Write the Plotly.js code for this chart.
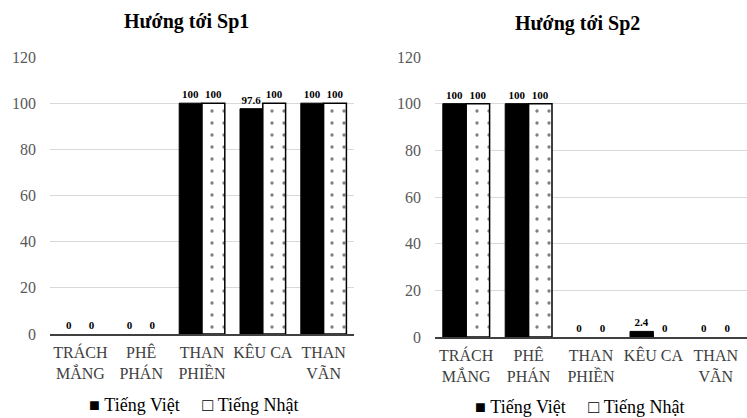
<!DOCTYPE html>
<html>
<head>
<meta charset="utf-8">
<script src="https://cdn.plot.ly/plotly-3.0.1.min.js"></script>
<style>html,body{margin:0;padding:0;background:#fff;}#chart{width:747px;height:418px;}</style>
</head>
<body>
<div id="chart"></div>
<script>
const categories = ["TRÁCH<br>MẮNG", "PHÊ<br>PHÁN", "THAN<br>PHIỀN", "KÊU CA", "THAN<br>VÃN"];
const sp1Viet = [0, 0, 100, 97.6, 100];
const sp1Nhat = [0, 0, 100, 100, 100];
const sp2Viet = [100, 100, 0, 2.4, 0];
const sp2Nhat = [100, 100, 0, 0, 0];
const seriesNames = ["Tiếng Việt", "Tiếng Nhật"];
const titles = ["Hướng tới Sp1", "Hướng tới Sp2"];
const yTicks = [0, 20, 40, 60, 80, 100, 120];

const serif = "Liberation Serif";
const labelFont = {family: serif, size: 11, color: "#000", weight: "bold"};

function lineWidths(y, w) { return y.map(v => v === 0 ? 0 : w); }

function vietTrace(y, xa, ya) {
  return {
    type: "bar", x: categories, y: y, name: seriesNames[0],
    xaxis: xa, yaxis: ya, showlegend: false,
    marker: {color: "#000", line: {color: "#000", width: lineWidths(y, 1)}},
    text: y.map(String), textposition: "outside", textfont: labelFont,
    cliponaxis: false, hoverinfo: "x+y"
  };
}
function nhatTrace(y, xa, ya) {
  return {
    type: "bar", x: categories, y: y, name: seriesNames[1],
    xaxis: xa, yaxis: ya, showlegend: false,
    marker: {color: "#fff", line: {color: "#000", width: lineWidths(y, 1.5)},
             pattern: {shape: ".", fgcolor: "#000", bgcolor: "#fff", size: 12, solidity: 0.06, fillmode: "overlay"}},
    text: y.map(String), textposition: "outside", textfont: labelFont,
    cliponaxis: false, hoverinfo: "x+y"
  };
}

const data = [
  vietTrace(sp1Viet, "x", "y"),
  nhatTrace(sp1Nhat, "x", "y"),
  vietTrace(sp2Viet, "x2", "y2"),
  nhatTrace(sp2Nhat, "x2", "y2")
];

const xCommon = {
  type: "category", showgrid: false, showline: true, linecolor: "#404040", linewidth: 2,
  ticks: "", ticklabelstandoff: 3, tickfont: {family: serif, size: 16, color: "#404040"},
  fixedrange: true, automargin: false
};
const yCommon = {
  range: [0, 120], tickvals: yTicks, showgrid: true, gridcolor: "#d9d9d9", gridwidth: 1,
  zeroline: false, showline: false, ticks: "", ticklabelstandoff: 13,
  tickfont: {family: serif, size: 16, color: "#595959"}, fixedrange: true, automargin: false
};

const NB = "\u00A0";
function legendAnn(x, y) {
  return {
    text: "■" + NB + seriesNames[0] + NB + NB + NB + NB + NB + "□" + NB + seriesNames[1],
    xref: "paper", yref: "paper", x: x, y: y, xanchor: "center", yanchor: "middle",
    showarrow: false, font: {family: serif, size: 18, color: "#000"}
  };
}
function titleAnn(t, x, y) {
  return {text: "<b>" + t + "</b>", xref: "paper", yref: "paper", x: x, y: y,
    xanchor: "center", yanchor: "middle", showarrow: false, font: {family: serif, size: 20, color: "#000"}};
}

const layout = {
  width: 747, height: 418,
  margin: {l: 0, r: 0, t: 0, b: 0, autoexpand: false},
  paper_bgcolor: "#fff", plot_bgcolor: "#fff",
  barmode: "group", bargap: 0.25, bargroupgap: 0,
  showlegend: false,
  xaxis: Object.assign({}, xCommon, {domain: [50/747, 354/747], anchor: "y"}),
  yaxis: Object.assign({}, yCommon, {domain: [1 - 334/418, 1 - 57/418], anchor: "x"}),
  xaxis2: Object.assign({}, xCommon, {domain: [435/747, 1], anchor: "y2"}),
  yaxis2: Object.assign({}, yCommon, {domain: [1 - 337/418, 1 - 57/418], anchor: "x2"}),
  annotations: [
    titleAnn(titles[0], 186/747, 1 - 22/418),
    titleAnn(titles[1], 577/747, 1 - 23/418),
    legendAnn(194/747, 1 - 405/418),
    legendAnn(580/747, 1 - 407/418)
  ]
};

Plotly.newPlot("chart", data, layout, {displayModeBar: false, staticPlot: true});
</script>
</body>
</html>
